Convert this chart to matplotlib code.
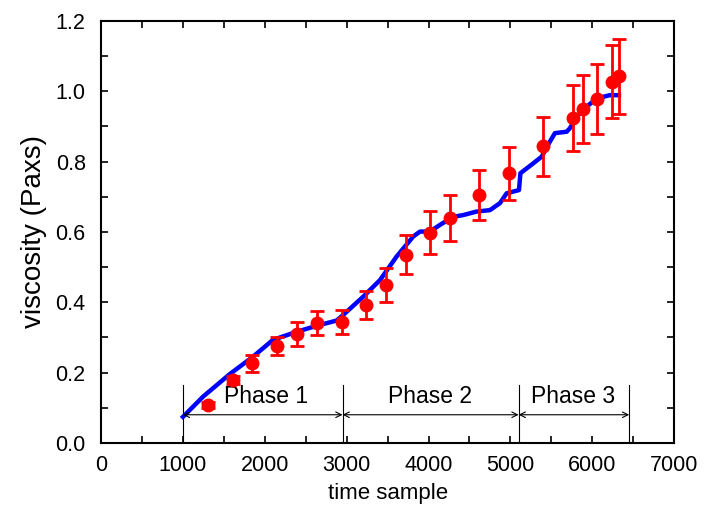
import numpy as np
import matplotlib.pyplot as plt
from matplotlib.ticker import MultipleLocator

plt.rcParams['font.family'] = ['Liberation Sans', 'DejaVu Sans']

# measured points with error bars
pt_x = [1313, 1612, 1844, 2149, 2393, 2637, 2939, 3236, 3476, 3724,
        4017, 4261, 4619, 4982, 5400, 5759, 5882, 6060, 6236, 6328]
pt_y = [0.108, 0.179, 0.227, 0.276, 0.310, 0.341, 0.345, 0.392, 0.449, 0.535,
        0.598, 0.639, 0.705, 0.767, 0.844, 0.923, 0.949, 0.978, 1.027, 1.043]
pt_err = [0.008, 0.012, 0.024, 0.026, 0.034, 0.033, 0.034, 0.041, 0.047, 0.056,
          0.062, 0.065, 0.072, 0.075, 0.084, 0.094, 0.096, 0.100, 0.104, 0.107]

# estimated curve
line_x = [1001, 1249, 1575, 1856, 2100, 2390, 2634, 2878, 2958, 3203,
          3407, 3610, 3813, 3895, 4017, 4139, 4302, 4424, 4587, 4750,
          4872, 4954, 5104, 5122, 5278, 5381, 5482, 5543, 5686, 5726,
          5808, 5930, 6053, 6215, 6325]
line_y = [0.074, 0.132, 0.196, 0.245, 0.293, 0.316, 0.333, 0.348, 0.364, 0.416,
          0.463, 0.530, 0.587, 0.601, 0.601, 0.620, 0.643, 0.648, 0.658, 0.662,
          0.682, 0.710, 0.719, 0.767, 0.795, 0.814, 0.857, 0.881, 0.885, 0.895,
          0.928, 0.956, 0.980, 0.989, 0.989]

# phase boundaries and labels
bounds = [1000, 2950, 5100, 6450]
phase_labels = ['Phase 1', 'Phase 2', 'Phase 3']
label_x = [2020, 4020, 5760]

fig = plt.figure(figsize=(7.06, 5.12), dpi=100)
ax = fig.add_axes([0.143, 0.135, 0.812, 0.824])

ax.plot(line_x, line_y, color='#0000ff', lw=3.2, zorder=2)
ax.errorbar(pt_x, pt_y, yerr=pt_err, fmt='o', color='#ff0000', ms=9,
            elinewidth=2, capsize=5, capthick=2, zorder=3)

for b in bounds:
    ax.plot([b, b], [0.005, 0.165], color='black', lw=0.8, zorder=1)
for i in range(3):
    ax.annotate('', xy=(bounds[i], 0.08), xytext=(bounds[i + 1], 0.08),
                arrowprops=dict(arrowstyle='<->', color='black', lw=0.8,
                                shrinkA=0, shrinkB=0))
    ax.text(label_x[i], 0.131, phase_labels[i], ha='center', va='center',
            fontsize=16.5)

ax.set_xlim(0, 7000)
ax.set_ylim(0, 1.2)
ax.xaxis.set_major_locator(MultipleLocator(1000))
ax.xaxis.set_minor_locator(MultipleLocator(500))
ax.yaxis.set_major_locator(MultipleLocator(0.2))
ax.yaxis.set_minor_locator(MultipleLocator(0.1))
ax.yaxis.set_major_formatter(plt.FormatStrFormatter('%.1f'))
ax.tick_params(which='both', direction='in', top=True, right=True,
               length=5, width=1.2, labelsize=15.5)
ax.tick_params(axis='x', which='major', pad=8.5)
ax.tick_params(axis='y', which='major', pad=11)
for s in ax.spines.values():
    s.set_linewidth(1.5)

ax.set_xlabel('time sample', fontsize=16, labelpad=5)
ax.set_ylabel('viscosity (Paxs)', fontsize=20, labelpad=6)

fig.savefig('out.png', dpi=100)
